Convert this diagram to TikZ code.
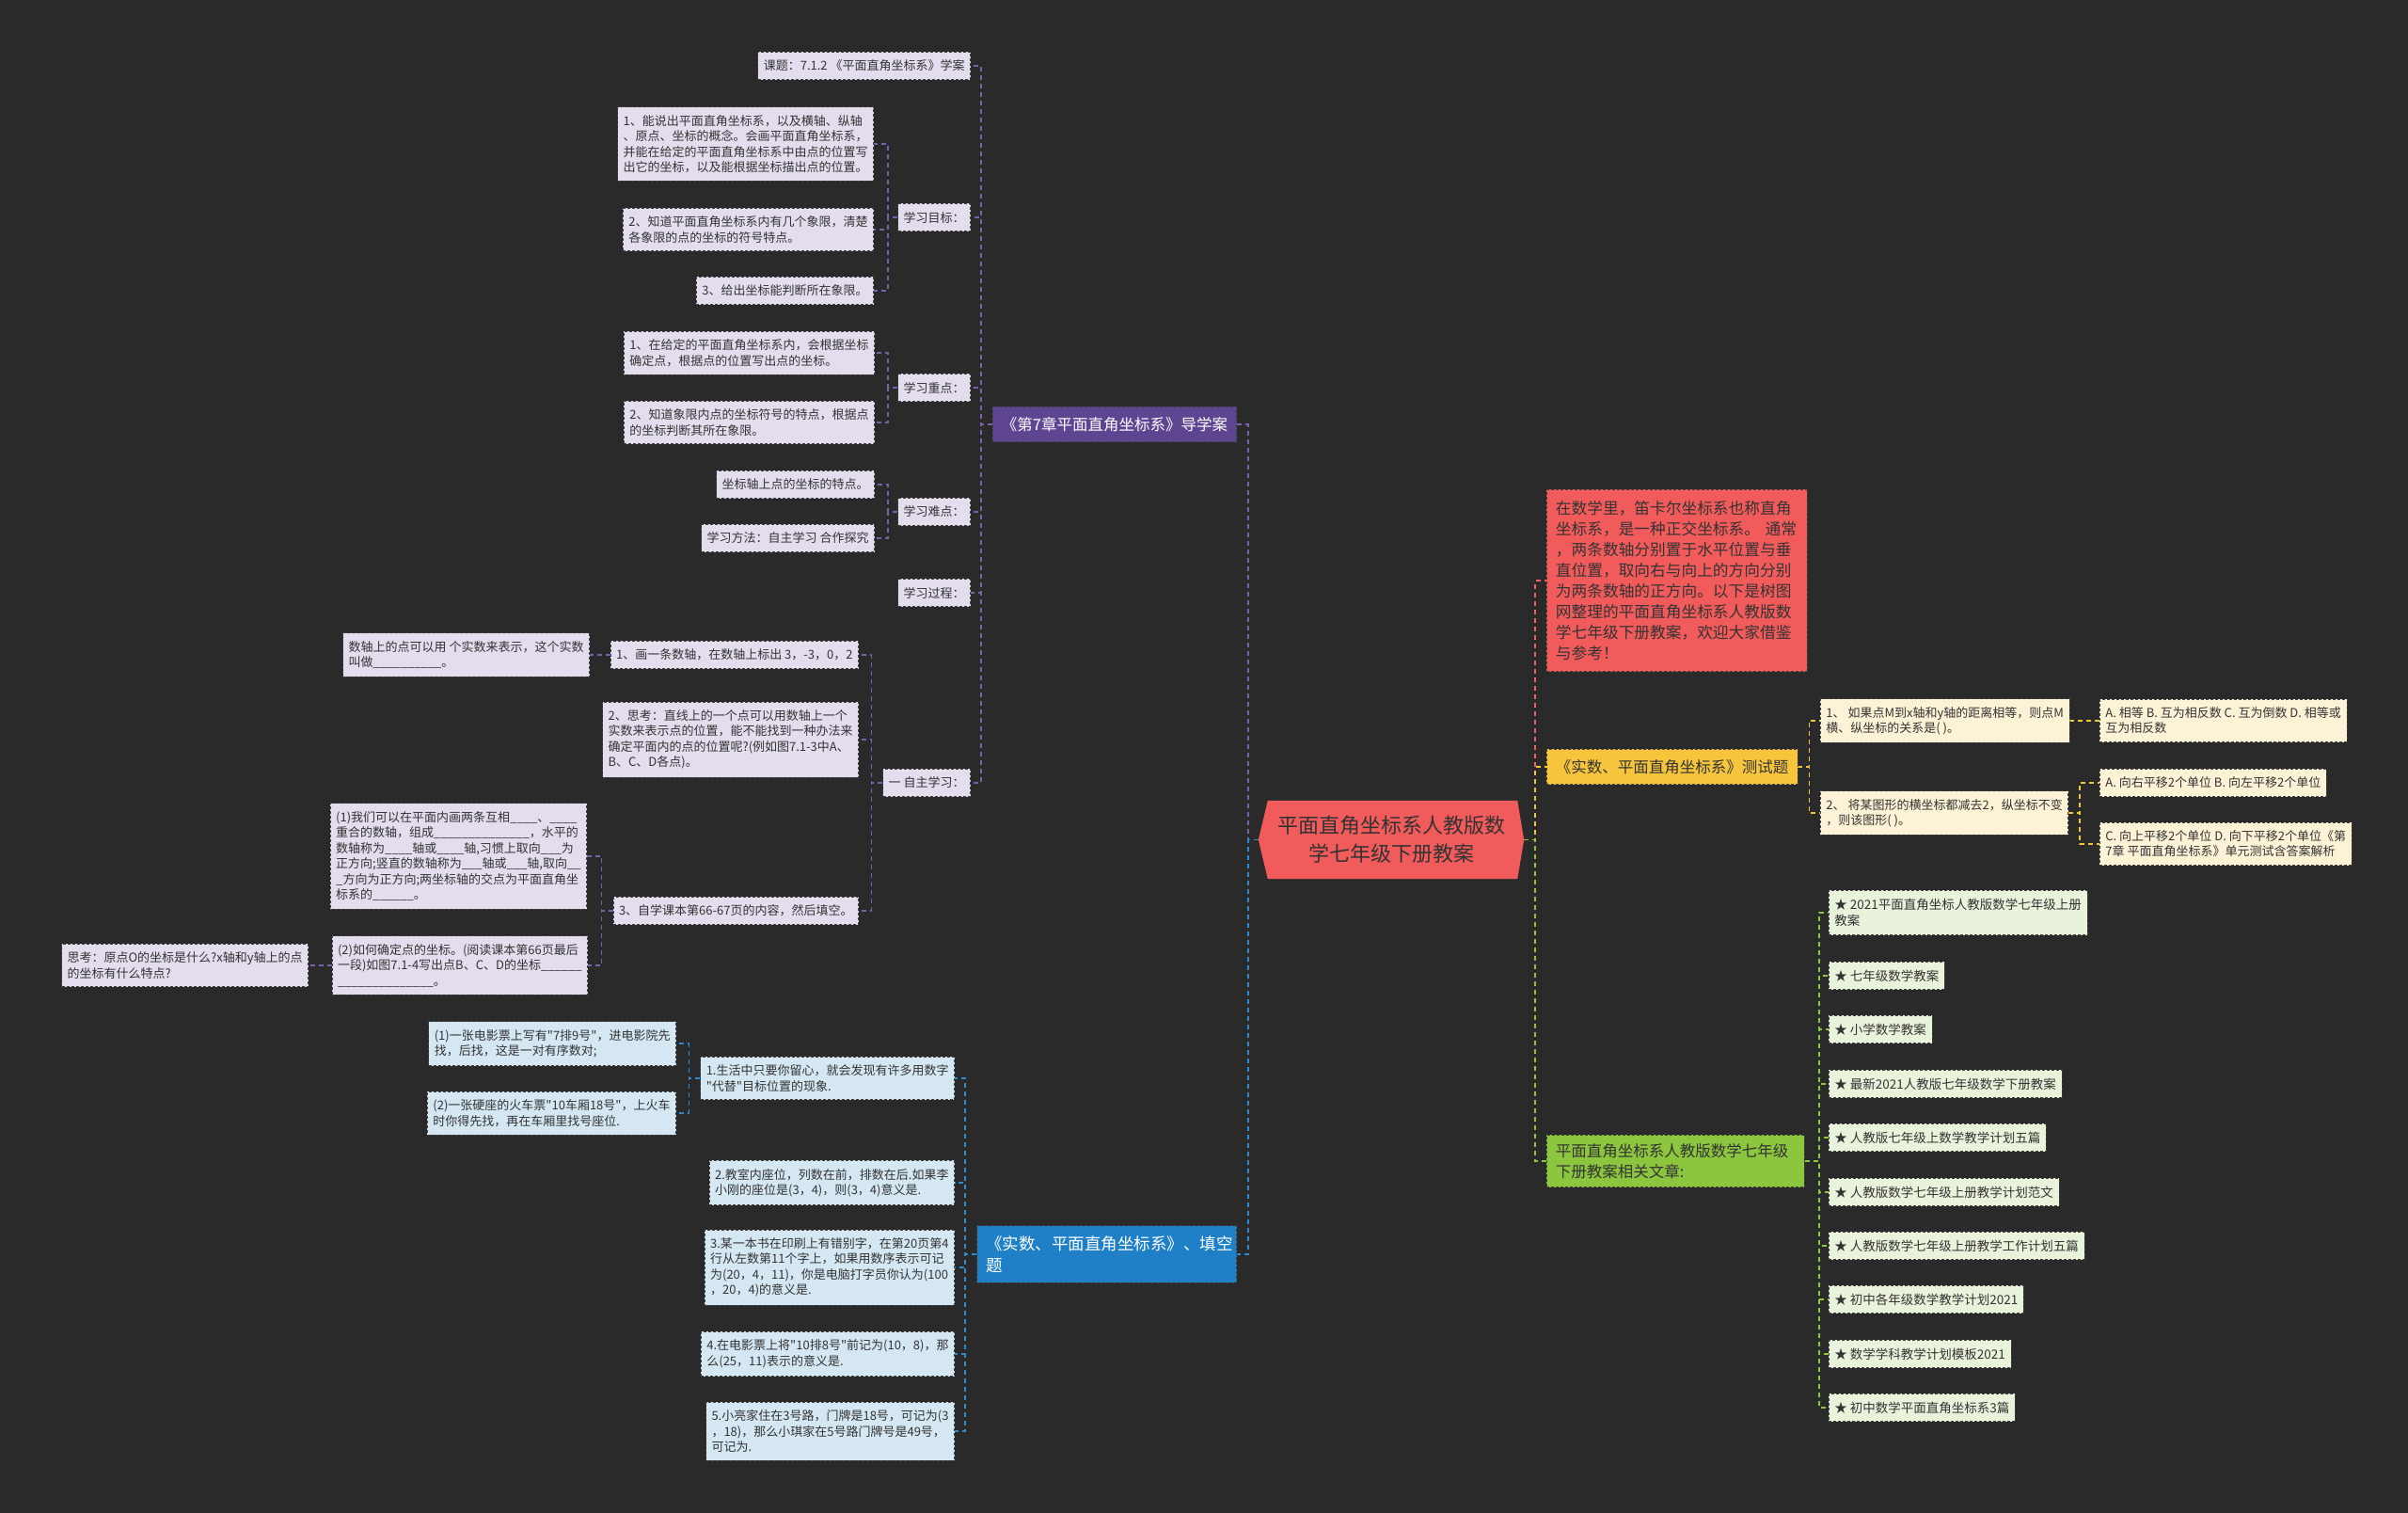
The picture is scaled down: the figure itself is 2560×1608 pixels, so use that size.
\documentclass[tikz,border=0pt]{standalone}
\usepackage{fontspec}
\setmainfont{Noto Sans CJK SC}[Ligatures=TeXOff]
\usepackage{tikz}
\usetikzlibrary{calc, backgrounds}

\definecolor{mapBg}{HTML}{2A2A2A}
\definecolor{mapInk}{HTML}{333333}
\definecolor{mapRed}{HTML}{F25B5B}
\definecolor{mapPurple}{HTML}{5E4592}
\definecolor{mapBlue}{HTML}{1F80C8}
\definecolor{mapYellow}{HTML}{F7C53C}
\definecolor{mapGreen}{HTML}{8CC63E}
\definecolor{mapPurpleLight}{HTML}{E3DDEE}
\definecolor{mapBlueLight}{HTML}{D4E7F3}
\definecolor{mapYellowLight}{HTML}{FCF3D6}
\definecolor{mapGreenLight}{HTML}{E9F3DB}
\definecolor{linePurple}{HTML}{7462AC}
\definecolor{lineBlue}{HTML}{2D8BD2}
\definecolor{lineRed}{HTML}{F06060}
\definecolor{lineYellow}{HTML}{F0C43C}
\definecolor{lineGreen}{HTML}{8DC63F}

\begin{document}
\begin{tikzpicture}[
  x=1pt, y=-1pt,
  every node/.style={text=mapInk},
  rootnode/.style={
    minimum width=282pt, minimum height=83pt, inner sep=0pt,
    align=center, font=\fontsize{22}{30}\selectfont
  },
  mainbox/.style={
    rectangle, draw=black!75, line width=0.9pt,
    dash pattern=on 3pt off 2pt, fill=#1,
    inner xsep=9.5pt, inner ysep=11pt,
    font=\fontsize{16.5}{22}\selectfont, align=left
  },
  leafbox/.style={
    rectangle, draw=black!75, line width=0.8pt,
    dash pattern=on 3pt off 2pt, fill=#1,
    inner xsep=6pt, inner ysep=8.5pt,
    font=\fontsize{13}{16.5}\selectfont, align=left
  },
  link/.style={draw=#1, line width=1.5pt, dash pattern=on 5pt off 4pt},
]

\useasboundingbox (0,0) rectangle (2560,1608);
\begin{scope}[on background layer]
  \fill[mapBg] (0,0) rectangle (2560,1608);
\end{scope}

% === ROOT ===
\node[rootnode] (root) at (1479,892.5) {平面直角坐标系人教版数\\学七年级下册教案};
\begin{scope}[on background layer]
  \fill[mapRed] (root.west) -- ($(root.north west)+(10,0)$) -- ($(root.north east)+(-7,0)$)
    -- (root.east) -- ($(root.south east)+(-7,0)$) -- ($(root.south west)+(10,0)$) -- cycle;
\end{scope}

% === GUIDE (purple) ===
\node[mainbox=mapPurple, text=white, anchor=east] (guide) at (1315,451) {《第7章平面直角坐标系》导学案};

\node[leafbox=mapPurpleLight, anchor=east] (topic) at (1032,70) {课题：7.1.2 《平面直角坐标系》学案};
\node[leafbox=mapPurpleLight, anchor=east] (goal) at (1032,231) {学习目标：};
\node[leafbox=mapPurpleLight, anchor=east] (keyp) at (1032,412) {学习重点：};
\node[leafbox=mapPurpleLight, anchor=east] (hard) at (1032,544) {学习难点：};
\node[leafbox=mapPurpleLight, anchor=east] (proc) at (1032,630) {学习过程：};
\node[leafbox=mapPurpleLight, anchor=east] (self) at (1032,832) {一 自主学习：};

\node[leafbox=mapPurpleLight, anchor=east] (goal1) at (929,153) {1、能说出平面直角坐标系，以及横轴、纵轴\\、原点、坐标的概念。会画平面直角坐标系，\\并能在给定的平面直角坐标系中由点的位置写\\出它的坐标，以及能根据坐标描出点的位置。};
\node[leafbox=mapPurpleLight, anchor=east] (goal2) at (929,244) {2、知道平面直角坐标系内有几个象限，清楚\\各象限的点的坐标的符号特点。};
\node[leafbox=mapPurpleLight, anchor=east] (goal3) at (929,309) {3、给出坐标能判断所在象限。};

\node[leafbox=mapPurpleLight, anchor=east] (keyp1) at (930,375) {1、在给定的平面直角坐标系内，会根据坐标\\确定点，根据点的位置写出点的坐标。};
\node[leafbox=mapPurpleLight, anchor=east] (keyp2) at (930,449) {2、知道象限内点的坐标符号的特点，根据点\\的坐标判断其所在象限。};

\node[leafbox=mapPurpleLight, anchor=east] (hard1) at (930,515) {坐标轴上点的坐标的特点。};
\node[leafbox=mapPurpleLight, anchor=east] (hard2) at (930,572) {学习方法：自主学习 合作探究};

\node[leafbox=mapPurpleLight, anchor=east] (self1) at (913,696) {1、画一条数轴，在数轴上标出 3，-3，0，2};
\node[leafbox=mapPurpleLight, anchor=east] (self2) at (913,786) {2、思考：直线上的一个点可以用数轴上一个\\实数来表示点的位置，能不能找到一种办法来\\确定平面内的点的位置呢?(例如图7.1-3中A、\\B、C、D各点)。};
\node[leafbox=mapPurpleLight, anchor=east] (self3) at (913,968) {3、自学课本第66-67页的内容，然后填空。};

\node[leafbox=mapPurpleLight, anchor=east] (self1a) at (627,696) {数轴上的点可以用 个实数来表示，这个实数\\叫做\_\_\_\_\_\_\_\_\_\_。};
\node[leafbox=mapPurpleLight, anchor=east] (self3a) at (624,910) {(1)我们可以在平面内画两条互相\_\_\_\_、\_\_\_\_\\重合的数轴，组成\_\_\_\_\_\_\_\_\_\_\_\_\_\_，水平的\\数轴称为\_\_\_\_轴或\_\_\_\_轴,习惯上取向\_\_\_为\\正方向;竖直的数轴称为\_\_\_轴或\_\_\_轴,取向\_\_\\\_方向为正方向;两坐标轴的交点为平面直角坐\\标系的\_\_\_\_\_\_。};
\node[leafbox=mapPurpleLight, anchor=east] (self3b) at (625,1026) {(2)如何确定点的坐标。(阅读课本第66页最后\\一段)如图7.1-4写出点B、C、D的坐标\_\_\_\_\_\_\\\_\_\_\_\_\_\_\_\_\_\_\_\_\_。};
\node[leafbox=mapPurpleLight, anchor=east] (self3c) at (328,1026) {思考：原点O的坐标是什么?x轴和y轴上的点\\的坐标有什么特点?};

% === FILL-IN (blue) ===
\node[mainbox=mapBlue, text=white, anchor=east, text width=257pt, inner ysep=10.5pt,
  font=\fontsize{17.5}{23}\selectfont] (fill) at (1315,1333) {《实数、平面直角坐标系》、填空\\题};

\node[leafbox=mapBlueLight, anchor=east] (fill1) at (1015,1146) {1.生活中只要你留心，就会发现有许多用数字\\"代替"目标位置的现象.};
\node[leafbox=mapBlueLight, anchor=east] (fill2) at (1015,1257) {2.教室内座位，列数在前，排数在后.如果李\\小刚的座位是(3，4)，则(3，4)意义是.};
\node[leafbox=mapBlueLight, anchor=east] (fill3) at (1015,1347) {3.某一本书在印刷上有错别字，在第20页第4\\行从左数第11个字上，如果用数序表示可记\\为(20，4，11)，你是电脑打字员你认为(100\\，20，4)的意义是.};
\node[leafbox=mapBlueLight, anchor=east] (fill4) at (1015,1439) {4.在电影票上将"10排8号"前记为(10，8)，那\\么(25，11)表示的意义是.};
\node[leafbox=mapBlueLight, anchor=east] (fill5) at (1015,1521) {5.小亮家住在3号路，门牌是18号，可记为(3\\，18)，那么小琪家在5号路门牌号是49号，\\可记为.};

\node[leafbox=mapBlueLight, anchor=east] (fill1a) at (719,1109) {(1)一张电影票上写有"7排9号"，进电影院先\\找，后找，这是一对有序数对;};
\node[leafbox=mapBlueLight, anchor=east] (fill1b) at (719,1183) {(2)一张硬座的火车票"10车厢18号"，上火车\\时你得先找，再在车厢里找号座位.};

% === INTRO (red) ===
\node[mainbox=mapRed, anchor=west, text width=258pt, inner ysep=12pt,
  font=\fontsize{16.7}{22}\selectfont] (intro) at (1644,617) {在数学里，笛卡尔坐标系也称直角\\坐标系，是一种正交坐标系。 通常\\，两条数轴分别置于水平位置与垂\\直位置，取向右与向上的方向分别\\为两条数轴的正方向。以下是树图\\网整理的平面直角坐标系人教版数\\学七年级下册教案，欢迎大家借鉴\\与参考！};

% === TEST (yellow) ===
\node[mainbox=mapYellow, anchor=west] (test) at (1644,815) {《实数、平面直角坐标系》测试题};

\node[leafbox=mapYellowLight, anchor=west, font=\fontsize{13}{16}\selectfont] (test1) at (1935,766) {1、 如果点M到x轴和y轴的距离相等，则点M\\横、纵坐标的关系是( )。};
\node[leafbox=mapYellowLight, anchor=west, font=\fontsize{13}{16}\selectfont] (test2) at (1935,864) {2、 将某图形的横坐标都减去2，纵坐标不变\\，则该图形( )。};
\node[leafbox=mapYellowLight, anchor=west, font=\fontsize{13}{16}\selectfont] (test1a) at (2232,766) {A. 相等 B. 互为相反数 C. 互为倒数 D. 相等或\\互为相反数};
\node[leafbox=mapYellowLight, anchor=west, font=\fontsize{13}{16}\selectfont] (test2a) at (2232,832) {A. 向右平移2个单位 B. 向左平移2个单位};
\node[leafbox=mapYellowLight, anchor=west, font=\fontsize{13}{16}\selectfont] (test2b) at (2232,897) {C. 向上平移2个单位 D. 向下平移2个单位《第\\7章 平面直角坐标系》单元测试含答案解析};

% === RELATED (green) ===
\node[mainbox=mapGreen, anchor=west, text width=255pt, inner ysep=9pt] (rel) at (1644,1234) {平面直角坐标系人教版数学七年级\\下册教案相关文章:};

\foreach \y/\t [count=\i] in {
  970/{★ 2021平面直角坐标人教版数学七年级上册\\教案},
  1037/{★ 七年级数学教案},
  1094/{★ 小学数学教案},
  1152/{★ 最新2021人教版七年级数学下册教案},
  1209/{★ 人教版七年级上数学教学计划五篇},
  1267/{★ 人教版数学七年级上册教学计划范文},
  1324/{★ 人教版数学七年级上册教学工作计划五篇},
  1381/{★ 初中各年级数学教学计划2021},
  1439/{★ 数学学科教学计划模板2021},
  1496/{★ 初中数学平面直角坐标系3篇}} {
  \node[leafbox=mapGreenLight, anchor=west, font=\fontsize{13.5}{17.5}\selectfont] (rel\i) at (1944,\y) {\t};
}

% === CONNECTORS ===
\begin{scope}[on background layer]
  \draw[link=lineRed] (root.east) -- ++(12,0) |- (intro.west);
  \draw[link=lineYellow] (root.east) -- ++(12,0) |- (test.west);
  \draw[link=lineGreen] (root.east) -- ++(12,0) |- (rel.west);
  \draw[link=linePurple] (root.west) -- ++(-11,0) |- (guide.east);
  \draw[link=lineBlue] (root.west) -- ++(-11,0) |- (fill.east);

  \foreach \c in {topic,goal,keyp,hard,proc,self}
    \draw[link=linePurple] (guide.west) -- ++(-12,0) |- (\c.east);
  \foreach \c in {goal1,goal2,goal3}
    \draw[link=linePurple] (goal.west) -- ++(-10,0) |- (\c.east);
  \foreach \c in {keyp1,keyp2}
    \draw[link=linePurple] (keyp.west) -- ++(-10,0) |- (\c.east);
  \foreach \c in {hard1,hard2}
    \draw[link=linePurple] (hard.west) -- ++(-10,0) |- (\c.east);
  \foreach \c in {self1,self2,self3}
    \draw[link=linePurple] (self.west) -- ++(-12,0) |- (\c.east);
  \draw[link=linePurple] (self1.west) -- (self1a.east);
  \foreach \c in {self3a,self3b}
    \draw[link=linePurple] (self3.west) -- ++(-12,0) |- (\c.east);
  \draw[link=linePurple] (self3b.west) -- (self3c.east);

  \foreach \c in {fill1,fill2,fill3,fill4,fill5}
    \draw[link=lineBlue] (fill.west) -- ++(-12,0) |- (\c.east);
  \foreach \c in {fill1a,fill1b}
    \draw[link=lineBlue] (fill1.west) -- ++(-12,0) |- (\c.east);

  \foreach \c in {test1,test2}
    \draw[link=lineYellow] (test.east) -- ++(12,0) |- (\c.west);
  \draw[link=lineYellow] (test1.east) -- (test1a.west);
  \foreach \c in {test2a,test2b}
    \draw[link=lineYellow] (test2.east) -- ++(12,0) |- (\c.west);

  \foreach \i in {1,...,10}
    \draw[link=lineGreen] (rel.east) -- ++(15,0) |- (rel\i.west);
\end{scope}

\end{tikzpicture}
\end{document}
